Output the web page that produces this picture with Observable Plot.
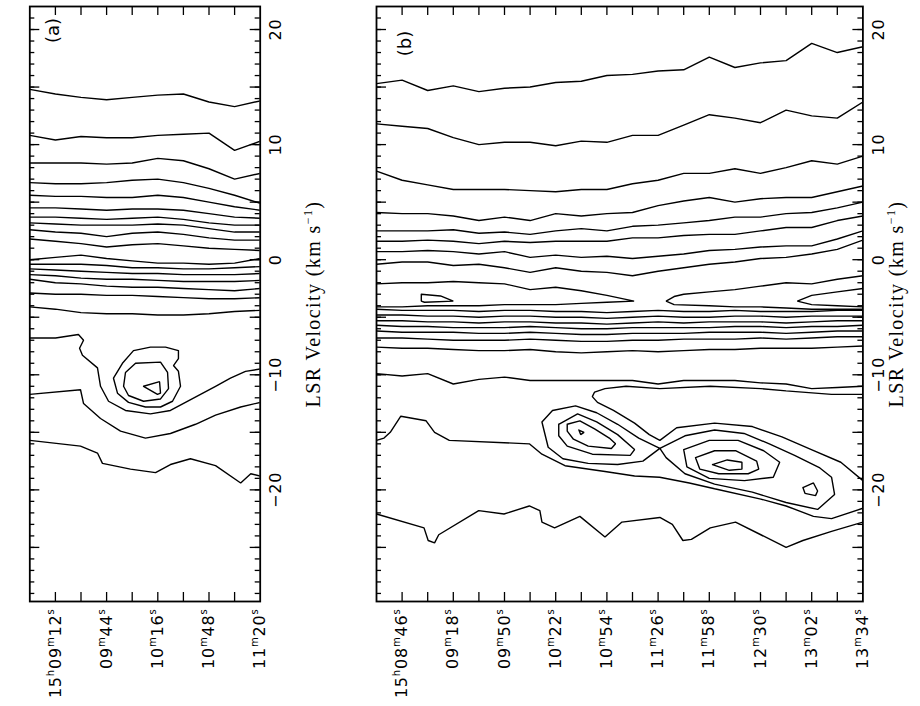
<!DOCTYPE html>
<html>
<head>
<meta charset="utf-8">
<script src="https://cdn.jsdelivr.net/npm/d3@7"></script>
<script src="https://cdn.jsdelivr.net/npm/@observablehq/plot@0.6"></script>
<style>
html,body{margin:0;padding:0;background:#fff;}
#fig{position:relative;width:920px;height:706px;overflow:hidden;background:#fff;}
#pa,#pb{position:absolute;top:0;}
#pa{left:0;}
#pb{left:340px;}
</style>
</head>
<body>
<div id="fig"><div id="pa"></div><div id="pb"></div></div>
<script>
// ---------------- DATA ----------------
// velocity axis (km/s)
const velDomain = [-29.7, 22];
const velMinorTicks = [-29,-28,-27,-26,-25,-24,-23,-22,-21,-20,-19,-18,-17,-16,-15,-14,-13,-12,-11,-10,-9,-8,-7,-6,-5,-4,-3,-2,-1,0,1,2,3,4,5,6,7,8,9,10,11,12,13,14,15,16,17,18,19,20,21];
const velMajorTicks = [-25,-20,-15,-10,-5,0,5,10,15,20];
const velLabelValues = [-20,-10,0,10,20];
const velLabelText = ["\u221220","\u221210","0","10","20"];
const velTitle = "LSR Velocity (km s^{\u22121})";

// RA axis: seconds after 15h08m00s
const raDomainA = [56, 200];
const raDomainB = [30, 334];
const raTicksA = [72,88,104,120,136,152,168,184];
const raTicksB = [46,62,78,94,110,126,142,158,174,190,206,222,238,254,270,286,302,318];
const raLabelA = [72,104,136,168,200];
const raLabelTextA = ["15^h09^m12^s","09^m44^s","10^m16^s","10^m48^s","11^m20^s"];
const raLabelB = [46,78,110,142,174,206,238,270,302,334];
const raLabelTextB = ["15^h08^m46^s","09^m18^s","09^m50^s","10^m22^s","10^m54^s","11^m26^s","11^m58^s","12^m30^s","13^m02^s","13^m34^s"];

// ---- panel (a): sampled RA positions and the velocity of each open contour there
const raA = [56,72,88,104,120,136,152,168,184,200];
const contoursA = [
 [14.8,14.4,14.1,13.9,14.1,14.3,14.4,13.7,13.3,13.8],
 [10.8,10.4,10.7,10.6,10.6,10.8,10.9,11.0,9.5,10.3],
 [8.4,8.4,8.4,8.3,8.4,8.8,8.6,7.9,7.0,7.5],
 [6.7,6.6,6.6,6.7,6.9,7.0,6.7,6.2,5.6,4.9],
 [5.6,5.5,5.5,5.4,5.4,5.6,5.4,5.0,4.6,4.3],
 [4.5,4.5,4.4,4.3,4.4,4.4,4.3,4.0,3.7,3.6],
 [3.7,3.7,3.6,3.5,3.6,3.7,3.5,3.2,3.0,3.0],
 [3.2,3.1,3.0,3.0,3.0,3.1,3.0,2.7,2.4,2.4],
 [2.6,2.4,2.3,2.0,2.3,2.4,2.2,1.9,1.7,1.7],
 [1.8,1.6,1.4,1.1,1.3,1.4,1.2,1.0,0.9,0.8],
 [0.0,0.2,0.4,0.1,-0.1,-0.3,-0.3,-0.4,-0.3,0.1],
 [-0.4,-0.4,-0.4,-0.5,-0.7,-0.7,-0.8,-0.8,-0.7,-0.6],
 [-0.8,-0.9,-1.0,-1.1,-1.2,-1.2,-1.3,-1.3,-1.3,-1.2],
 [-1.3,-1.4,-1.6,-1.7,-1.7,-1.8,-1.9,-1.9,-1.9,-1.8],
 [-1.7,-2.0,-2.1,-2.3,-2.4,-2.4,-2.5,-2.6,-2.7,-2.5],
 [-2.9,-3.0,-3.0,-3.1,-3.1,-3.2,-3.3,-3.4,-3.4,-3.3],
 [-4.1,-4.3,-4.6,-4.7,-4.7,-4.8,-4.8,-4.7,-4.5,-4.4]
];
// panel (a): contours around the emission peak, as [RA, velocity] vertices
const outer1A = [[56,-6.8],[72.1,-6.8],[86.4,-6.5],[89.6,-7.0],[87.1,-7.7],[88.9,-8.3],[98.3,-9.4],[100.2,-11.0],[105.2,-12.3],[115.8,-13.1],[131.4,-13.4],[143.9,-13.1],[153.3,-12.4],[162.7,-11.7],[172.1,-11.0],[181.4,-10.3],[190.8,-9.7],[200,-9.5]];
const outer2A = [[56,-11.7],[87.7,-11.3],[89.6,-12.5],[100.2,-13.8],[112.7,-14.9],[128.3,-15.5],[143.9,-15.1],[159.6,-14.3],[172.1,-13.5],[187.8,-12.8],[200,-12.4]];
const outer3A = [[56,-15.7],[87.7,-16.2],[98.3,-16.8],[101.4,-17.7],[118.9,-18.2],[134.6,-18.5],[143.9,-17.8],[156.4,-17.3],[172.1,-17.9],[187.8,-19.4],[194.1,-18.6],[200,-18.8]];
const peak3A = [[148.9,-7.9],[140.8,-7.6],[131.4,-7.6],[120.8,-7.9],[113.9,-9.0],[108.3,-10.3],[110.8,-11.6],[117.7,-12.4],[128.3,-12.8],[137.7,-12.8],[145.2,-12.3],[150.2,-11.0],[148.9,-9.7],[145.8,-9.2],[148.9,-8.6],[148.9,-7.9]];
const peak2A = [[122.1,-9.0],[137.7,-8.9],[142.1,-9.8],[142.7,-11.2],[137.7,-12.1],[127.1,-12.3],[117.7,-11.8],[114.6,-11.0],[115.8,-9.8],[122.1,-9.0]];
const peak1A = [[127.1,-11.0],[137.1,-10.6],[137.7,-11.6],[135.8,-11.7],[127.1,-11.0]];

// ---- panel (b)
const raB = [30,46,62,78,94,110,126,142,158,174,190,206,222,238,254,270,286,302,318,334];
const contoursB = [
 [15.3,15.6,14.7,15.1,14.6,14.9,15.0,15.4,15.5,16.0,16.1,16.4,16.5,17.6,16.7,17.1,17.3,18.8,18.0,18.5],
 [11.8,11.6,11.4,10.6,10.0,10.2,10.2,9.9,10.3,10.2,10.8,10.8,11.7,12.6,12.3,11.9,13.0,12.5,12.3,13.7],
 [7.7,6.9,6.5,6.1,6.1,6.1,6.0,5.9,6.1,6.1,6.6,6.9,7.5,7.5,7.9,7.5,8.0,8.6,8.3,9.0],
 [4.1,4.0,4.0,3.8,3.4,3.7,3.4,4.0,3.8,4.0,4.1,4.7,5.1,5.4,5.0,5.3,5.4,5.4,5.9,6.4],
 [2.5,2.5,2.5,2.6,2.3,2.4,2.2,2.5,2.7,2.5,2.9,3.0,3.2,3.4,3.7,3.7,4.0,4.1,4.5,5.0],
 [1.6,1.6,1.7,1.6,1.4,1.6,1.5,1.6,1.6,1.6,1.9,1.9,2.1,2.2,2.2,2.5,2.8,2.8,3.4,3.8],
 [0.7,0.7,0.8,0.7,0.5,0.7,0.2,0.4,0.2,0.3,0.1,0.3,0.5,0.8,0.9,1.1,1.2,1.2,1.8,2.5],
 [-0.4,-0.2,-0.2,-0.5,-0.4,-0.7,-1.1,-0.7,-1.0,-1.1,-1.4,-1.0,-0.7,-0.4,-0.2,0.1,0.2,0.5,0.9,1.7],
 [-4.3,-4.4,-4.4,-4.4,-4.5,-4.4,-4.4,-4.5,-4.5,-4.6,-4.5,-4.4,-4.5,-4.5,-4.4,-4.5,-4.5,-4.5,-4.4,-4.4],
 [-4.8,-4.8,-4.9,-4.9,-5.0,-4.9,-4.9,-5.0,-5.0,-5.1,-5.0,-4.9,-5.0,-5.0,-4.9,-4.9,-5.0,-4.9,-4.9,-4.9],
 [-5.3,-5.3,-5.4,-5.4,-5.5,-5.4,-5.4,-5.5,-5.5,-5.6,-5.5,-5.4,-5.5,-5.4,-5.4,-5.4,-5.5,-5.4,-5.3,-5.3],
 [-5.7,-5.8,-5.8,-5.9,-5.9,-5.9,-5.8,-5.9,-6.0,-6.0,-5.9,-5.9,-5.9,-5.9,-5.8,-5.8,-5.9,-5.8,-5.8,-5.7],
 [-6.2,-6.3,-6.3,-6.3,-6.4,-6.4,-6.3,-6.4,-6.5,-6.5,-6.4,-6.4,-6.4,-6.3,-6.3,-6.3,-6.4,-6.3,-6.2,-6.2],
 [-6.8,-6.8,-6.9,-7.0,-7.0,-7.0,-6.9,-7.0,-7.1,-7.1,-7.0,-7.0,-6.9,-6.9,-6.9,-6.8,-6.9,-6.8,-6.7,-6.7],
 [-7.6,-7.7,-7.7,-7.8,-7.9,-7.9,-7.8,-8.0,-8.1,-8.0,-7.9,-8.0,-7.9,-7.8,-7.8,-7.7,-7.7,-7.7,-7.6,-7.5],
 [-9.9,-10.1,-9.9,-10.8,-10.4,-10.2,-10.5,-10.5,-10.5,-10.5,-10.5,-10.8,-10.5,-10.5,-10.5,-10.7,-10.8,-11.2,-11.1,-11.0]
];
const vRightB = [[30,-2.1],[46,-2.0],[62,-2.0],[78,-1.9],[94,-2.0],[110,-2.1],[126,-2.6],[142,-2.4],[158,-2.7],[174,-3.1],[191,-3.6],[174,-3.7],[158,-3.8],[142,-3.9],[126,-3.9],[110,-3.9],[94,-4.0],[78,-4.0],[62,-4.0],[46,-4.1],[30,-4.1]];
const vLeft1B = [[334,-1.4],[318,-1.7],[302,-2.1],[286,-2.0],[270,-2.3],[254,-2.6],[238,-2.8],[222,-3.0],[216,-3.2],[211,-3.6],[216,-3.9],[238,-4.0],[254,-4.1],[270,-4.1],[286,-4.2],[302,-4.3],[318,-4.3],[334,-4.3]];
const vLeft2B = [[334,-2.5],[318,-2.8],[302,-3.1],[293,-3.6],[302,-3.9],[318,-4.0],[334,-4.1]];
const smallB = [[58,-3.0],[70,-3.15],[78,-3.6],[60,-3.7],[58,-3.6],[58,-3.0]];
const bottomB = [[30,-22.1],[59.7,-23.3],[62.3,-24.4],[66.3,-24.6],[68.9,-23.9],[93.9,-21.8],[109.7,-22.1],[125.5,-21.4],[132.1,-21.8],[133.4,-22.8],[141.3,-23.3],[157.1,-22.3],[172.8,-24.1],[183.4,-22.8],[207.1,-22.4],[214.9,-23.0],[221.5,-24.4],[226.8,-24.3],[238.6,-23.3],[254.4,-22.8],[270.2,-23.9],[286,-25.0],[296.5,-24.4],[314.4,-23.6],[334,-22.8]];
const lowB = [[30,-15.7],[34.7,-15.5],[38.6,-15.0],[45.2,-13.6],[61,-14.0],[66.3,-15.0],[75.5,-15.7],[125.5,-16.0],[133.4,-16.9],[147.8,-17.9],[172.8,-18.4],[191.3,-18.8],[207,-18.9],[225.5,-19.4],[241.3,-19.9],[270.2,-20.8],[286,-21.4],[303.1,-22.3],[314.4,-22.5],[334,-21.6]];
const hookB = [[334,-11.7],[314.4,-11.7],[286,-11.4],[270.2,-11.2],[238.6,-11.0],[207.1,-11.2],[186,-11.0],[172.8,-11.2],[166.3,-11.5],[164.9,-11.9],[168.1,-12.4],[178.1,-13.1],[191.3,-14.2],[200.5,-15.2],[207.1,-15.7],[217.6,-14.6],[241.3,-14.2],[264.9,-14.5],[283.4,-15.4],[301.8,-16.5],[320.2,-17.6],[334,-19.2]];
const peak1OuterB = [[133.4,-14.1],[140,-13.1],[154.4,-12.7],[167.6,-13.3],[180.7,-14.3],[193.9,-15.5],[207.1,-16.4],[196.5,-17.5],[180.7,-17.8],[162.3,-17.7],[146.5,-17.3],[137.3,-16.3],[133.4,-14.1]];
const peak1Loop3B = [[143.9,-14.3],[155.7,-13.4],[167.6,-14.1],[180.7,-15.2],[191.3,-16.5],[188.6,-17.0],[164.9,-16.9],[149.2,-16.2],[143.9,-15.3],[143.9,-14.3]];
const peak1Loop2B = [[149.2,-14.3],[157.1,-14.0],[166.3,-14.7],[175.5,-15.5],[179.4,-16.0],[176.8,-16.4],[162.3,-16.2],[153.1,-15.6],[149.2,-14.9],[149.2,-14.3]];
const peak1InnerB = [[156.5,-14.8],[159.7,-15.0],[157.6,-15.2],[156.5,-14.8]];
const peak23OuterB = [[207.1,-16.4],[222.8,-15.3],[241.3,-14.8],[259.7,-15.1],[275.5,-16.0],[291.3,-17.0],[307.1,-18.1],[314.4,-18.9],[316.3,-20.4],[305.7,-21.7],[286,-21.1],[264.9,-20.2],[241.3,-19.5],[222.8,-18.6],[211,-17.2],[207.1,-16.4]];
const peak2OuterB = [[222,-16.5],[238,-15.7],[256,-15.7],[272,-16.6],[282,-17.6],[278,-18.9],[260,-19.2],[238,-19.0],[224,-18.0],[222,-16.5]];
const peak2MidB = [[229.4,-17.2],[241.3,-16.6],[254.4,-16.6],[267.6,-17.5],[268.9,-18.2],[262.3,-18.6],[243.9,-18.6],[232.1,-18.2],[229.4,-17.2]];
const peak2InnerB = [[240,-17.8],[249.2,-17.4],[258.4,-17.6],[258.4,-18.2],[250.5,-18.3],[240,-17.8]];
const peak3InnerB = [[296.5,-19.8],[303.1,-19.4],[305.7,-20.1],[304.4,-20.5],[297.8,-20.3],[296.5,-19.8]];

// ---------------- DRAWING ----------------
const H = 706, MT = 6, MB = 105;
const FONT = "DejaVu Sans, Liberation Sans, sans-serif";
const SERIF = "Liberation Serif, DejaVu Serif, serif";

function makePanel(cfg) {
  const frameW = cfg.width - cfg.marginLeft - cfg.marginRight;
  const frameH = H - MT - MB;
  const lineOpts = {x: d => d[0], y: d => d[1], stroke: "black", strokeWidth: 1.4, clip: true, strokeLinejoin: "miter"};
  const marks = [];
  for (const vals of cfg.gridContours) marks.push(Plot.line(cfg.ra.map((r, i) => [r, vals[i]]), lineOpts));
  for (const pts of cfg.polylines) marks.push(Plot.line(pts, lineOpts));
  marks.push(Plot.frame({stroke: "black", strokeWidth: 1.8}));
  marks.push(Plot.tickX(cfg.raTicks, {x: d => d, insetTop: frameH - 9, stroke: "black", strokeWidth: 1.3}));
  marks.push(Plot.tickX(cfg.raTicks, {x: d => d, insetBottom: frameH - 9, stroke: "black", strokeWidth: 1.3}));
  marks.push(Plot.tickY(velMinorTicks, {y: d => d, insetRight: frameW - 5, stroke: "black", strokeWidth: 1.3}));
  marks.push(Plot.tickY(velMinorTicks, {y: d => d, insetLeft: frameW - 5, stroke: "black", strokeWidth: 1.3}));
  marks.push(Plot.tickY(velMajorTicks, {y: d => d, insetRight: frameW - 10, stroke: "black", strokeWidth: 1.3}));
  marks.push(Plot.tickY(velMajorTicks, {y: d => d, insetLeft: frameW - 10, stroke: "black", strokeWidth: 1.3}));
  marks.push(Plot.text(cfg.raLabels, {x: d => d, text: (d, i) => cfg.raLabelText[i], frameAnchor: "bottom",
    rotate: -90, textAnchor: "end", lineAnchor: "middle", dy: 7, fontSize: 16, fontFamily: FONT, fill: "black"}));
  marks.push(Plot.text(velLabelValues, {y: d => d, text: (d, i) => velLabelText[i], frameAnchor: "right",
    rotate: -90, textAnchor: "middle", lineAnchor: "middle", dx: 16, fontSize: 16, fontFamily: FONT, fill: "black"}));
  marks.push(Plot.text([velTitle], {frameAnchor: "right", rotate: -90, textAnchor: "middle", lineAnchor: "middle",
    dx: cfg.titleDx, fontSize: 20, fontFamily: SERIF, fill: "black"}));
  marks.push(Plot.text([cfg.tag], {frameAnchor: "top-left", rotate: -90, textAnchor: "middle", lineAnchor: "middle",
    dx: cfg.tagDx, dy: cfg.tagDy, fontSize: 18, fontFamily: FONT, fill: "black"}));

  return Plot.plot({
    width: cfg.width, height: H,
    marginLeft: cfg.marginLeft, marginRight: cfg.marginRight, marginTop: MT, marginBottom: MB,
    x: {domain: cfg.domainX, axis: null},
    y: {domain: velDomain, axis: null},
    style: {background: "white", color: "black", fontFamily: FONT, overflow: "visible"},
    marks
  });
}

// turn "a^b" / "a^{bc}" into real superscript tspans; widen spacing a little
function supify(svg) {
  d3.select(svg).selectAll("text").each(function () {
    const t = this.textContent;
    if (!t) return;
    const fs = parseFloat(getComputedStyle(this).fontSize) || 16;
    if (t.indexOf("LSR") === 0) this.setAttribute("letter-spacing", "1.4");
    else if (/^[0-9\u2212]/.test(t)) this.setAttribute("letter-spacing", "0.8");
    if (t.indexOf("^") < 0) return;
    const shift = Math.round(fs * 0.42);
    const parts = [];
    const re = /\^(\{[^}]*\}|.)/g;
    let last = 0, m;
    while ((m = re.exec(t))) {
      if (m.index > last) parts.push([t.slice(last, m.index), false]);
      let s = m[1];
      if (s[0] === "{") s = s.slice(1, -1);
      parts.push([s, true]);
      last = re.lastIndex;
    }
    if (last < t.length) parts.push([t.slice(last), false]);
    const sel = d3.select(this);
    sel.text(null);
    let cur = 0;
    for (const [s, sup] of parts) {
      const target = sup ? -shift : 0;
      const ts = sel.append("tspan").text(s);
      if (target - cur !== 0) ts.attr("dy", target - cur);
      if (sup) ts.attr("font-size", Math.round(fs * 0.62));
      cur = target;
    }
  });
}

const svgA = makePanel({
  width: 340, marginLeft: 29.3, marginRight: 80.3, domainX: raDomainA,
  ra: raA, gridContours: contoursA,
  polylines: [outer1A, outer2A, outer3A, peak3A, peak2A, peak1A],
  raTicks: raTicksA, raLabels: raLabelA, raLabelText: raLabelTextA,
  titleDx: 53, tag: "(a)", tagDx: 23, tagDy: 24
});
const svgB = makePanel({
  width: 580, marginLeft: 36, marginRight: 57.6, domainX: raDomainB,
  ra: raB, gridContours: contoursB,
  polylines: [vRightB, vLeft1B, vLeft2B, smallB, bottomB, lowB, hookB, peak1OuterB, peak1Loop3B, peak1Loop2B, peak1InnerB,
              peak23OuterB, peak2OuterB, peak2MidB, peak2InnerB, peak3InnerB],
  raTicks: raTicksB, raLabels: raLabelB, raLabelText: raLabelTextB,
  titleDx: 34, tag: "(b)", tagDx: 29, tagDy: 37
});
document.getElementById("pa").appendChild(svgA);
document.getElementById("pb").appendChild(svgB);
supify(svgA);
supify(svgB);
</script>
</body>
</html>
